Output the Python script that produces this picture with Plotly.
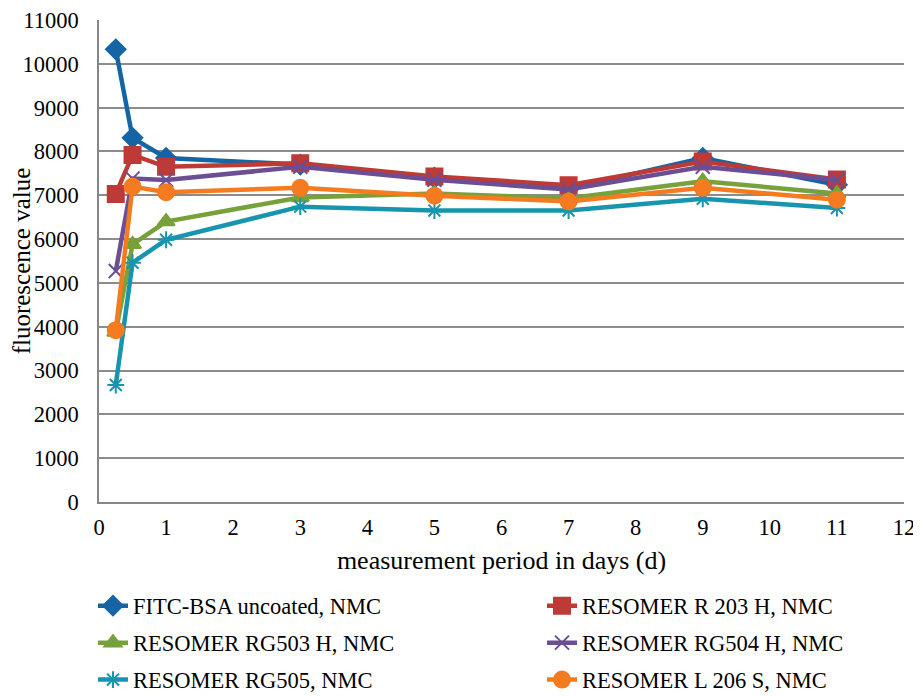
import plotly.graph_objects as go

days = [0.25, 0.5, 1, 3, 5, 7, 9, 11]

series_names = [
    "FITC-BSA uncoated, NMC",
    "RESOMER R 203 H, NMC",
    "RESOMER RG503 H, NMC",
    "RESOMER RG504 H, NMC",
    "RESOMER RG505, NMC",
    "RESOMER L 206 S, NMC",
]

fitc_bsa = [10330, 8310, 7850, 7700, 7400, 7150, 7850, 7240]
r203h = [7030, 7920, 7650, 7730, 7430, 7230, 7770, 7360]
rg503h = [3880, 5880, 6400, 6950, 7040, 6930, 7320, 7040]
rg504h = [5270, 7380, 7350, 7650, 7355, 7130, 7650, 7350]
rg505 = [2670, 5460, 5985, 6740, 6650, 6650, 6920, 6710]
l206s = [3920, 7200, 7070, 7170, 6990, 6860, 7170, 6900]

values = [fitc_bsa, r203h, rg503h, rg504h, rg505, l206s]

colors = ["#1565A6", "#BE3A36", "#77A13A", "#6B4E94", "#1794AE", "#F57B20"]
symbols = ["diamond", "square", "triangle-up", "x-thin-open", "asterisk-open", "circle"]
sizes = [15, 16, 15, 14, 14, 16]
legend_ids = ["legend", "legend2", "legend3", "legend4", "legend5", "legend6"]

fig = go.Figure()
for name, vals, col, sym, sz, lg in zip(series_names, values, colors, symbols, sizes, legend_ids):
    fig.add_trace(go.Scatter(
        x=days, y=vals, name=name, mode="lines+markers",
        line=dict(color=col, width=4.5),
        marker=dict(symbol=sym, size=sz, color=col, line=dict(color=col, width=2)),
        legend=lg,
    ))

font_family = "Liberation Serif, Times New Roman, serif"

# legend grid: 2 columns x 3 rows below the plot (container coordinates)
col_x = [0.0931, 0.5849]
row_y = [0.1308, 0.0770, 0.0233]
legend_layout = {}
for i, lg in enumerate(legend_ids):
    legend_layout[lg] = dict(
        orientation="h", xref="container", yref="container",
        x=col_x[i % 2], xanchor="left",
        y=row_y[i // 2], yanchor="middle",
        font=dict(family=font_family, size=22.5, color="#000"),
        bgcolor="rgba(0,0,0,0)",
    )

# page body has an 8px margin, so the figure is 8px smaller than the window
fig.update_layout(
    width=913, height=688,
    margin=dict(l=91, r=17, t=12, b=194),
    paper_bgcolor="white", plot_bgcolor="white",
    font=dict(family=font_family, size=22, color="#000"),
    showlegend=True,
    xaxis=dict(
        range=[0, 12], dtick=1, tick0=0, showgrid=False, zeroline=False,
        showline=True, linecolor="#868686", linewidth=1.5, automargin=False,
        ticks="", tickfont=dict(size=22.5), ticklabelstandoff=4,
        ticklabeloverflow="allow",
        title=dict(text="measurement period in days (d)", font=dict(size=26), standoff=12),
    ),
    yaxis=dict(
        range=[0, 11000], dtick=1000, tick0=0, showgrid=True, tickformat="d",
        gridcolor="#8C8C8C", gridwidth=1.5, zeroline=False, automargin=False,
        showline=True, linecolor="#868686", linewidth=1.5,
        ticks="", tickfont=dict(size=22.5), ticklabelstandoff=14,
        ticklabeloverflow="allow",
        title=dict(text="fluorescence value", font=dict(size=25), standoff=4),
    ),
    **legend_layout,
)

fig.write_html("out.html")
